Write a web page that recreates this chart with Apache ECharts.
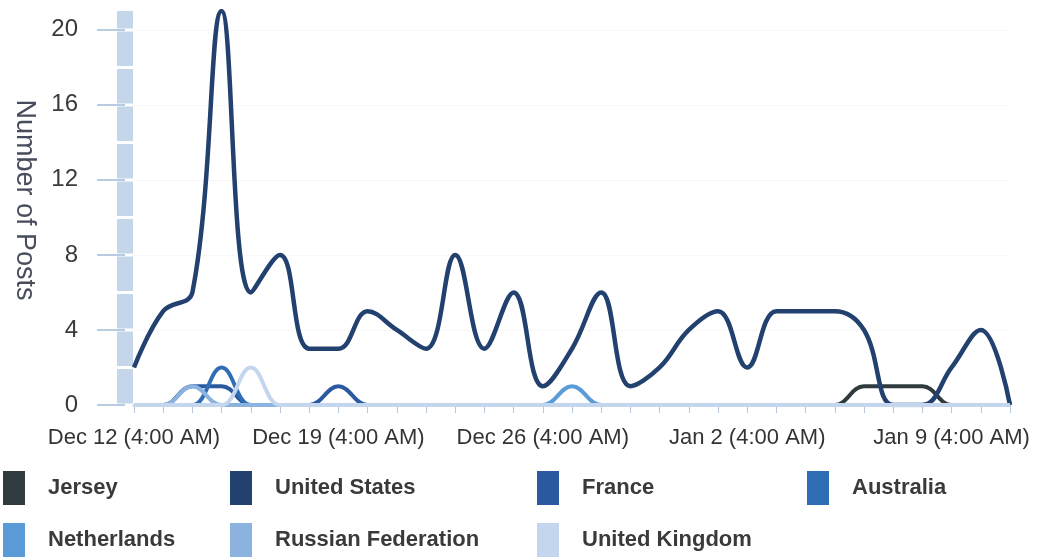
<!DOCTYPE html>
<html>
<head>
<meta charset="utf-8">
<script src="https://cdn.jsdelivr.net/npm/echarts@6/dist/echarts.min.js"></script>
<style>
  html, body { margin: 0; padding: 0; background: #fff; }
  #postsChart { width: 1038px; height: 557px; }
</style>
</head>
<body>
<div id="postsChart"></div>
<script>
// one point per day, Dec 12 .. Jan 11
var days = [
    'Dec 12 (4:00 AM)', 'Dec 13 (4:00 AM)', 'Dec 14 (4:00 AM)', 'Dec 15 (4:00 AM)',
    'Dec 16 (4:00 AM)', 'Dec 17 (4:00 AM)', 'Dec 18 (4:00 AM)', 'Dec 19 (4:00 AM)',
    'Dec 20 (4:00 AM)', 'Dec 21 (4:00 AM)', 'Dec 22 (4:00 AM)', 'Dec 23 (4:00 AM)',
    'Dec 24 (4:00 AM)', 'Dec 25 (4:00 AM)', 'Dec 26 (4:00 AM)', 'Dec 27 (4:00 AM)',
    'Dec 28 (4:00 AM)', 'Dec 29 (4:00 AM)', 'Dec 30 (4:00 AM)', 'Dec 31 (4:00 AM)',
    'Jan 1 (4:00 AM)', 'Jan 2 (4:00 AM)', 'Jan 3 (4:00 AM)', 'Jan 4 (4:00 AM)',
    'Jan 5 (4:00 AM)', 'Jan 6 (4:00 AM)', 'Jan 7 (4:00 AM)', 'Jan 8 (4:00 AM)',
    'Jan 9 (4:00 AM)', 'Jan 10 (4:00 AM)', 'Jan 11 (4:00 AM)'
];

var jersey       = [0,0,0,0,0,0,0,0,0,0,0,0,0,0,0,0,0,0,0,0,0,0,0,0,0,1,1,1,0,0,0];
var unitedStates = [2,5,6,21,6,8,3,3,5,4,3,8,3,6,1,3,6,1,2,4,5,2,5,5,5,4,0,0,2,4,0];
var france       = [0,0,1,1,0,0,0,1,0,0,0,0,0,0,0,0,0,0,0,0,0,0,0,0,0,0,0,0,0,0,0];
var australia    = [0,0,0,2,0,0,0,0,0,0,0,0,0,0,0,0,0,0,0,0,0,0,0,0,0,0,0,0,0,0,0];
var netherlands  = [0,0,0,0,0,0,0,0,0,0,0,0,0,0,0,1,0,0,0,0,0,0,0,0,0,0,0,0,0,0,0];
var russianFed   = [0,0,1,0,0,0,0,0,0,0,0,0,0,0,0,0,0,0,0,0,0,0,0,0,0,0,0,0,0,0,0];
var unitedKingdom= [0,0,0,0,2,0,0,0,0,0,0,0,0,0,0,0,0,0,0,0,0,0,0,0,0,0,0,0,0,0,0];

var yTicks = [0, 4, 8, 12, 16, 20];

var countries = ['Jersey', 'United States', 'France', 'Australia', 'Netherlands', 'Russian Federation', 'United Kingdom'];
var countryData = [jersey, unitedStates, france, australia, netherlands, russianFed, unitedKingdom];
var countryColors = ['#2f3b3e', '#22416f', '#2b59a0', '#2f6db4', '#5b9bd8', '#8cb2e0', '#c4d6ee'];

// legend slots: [left, top] (legend has 5px padding of its own)
var legendPos = [[-2, 466], [225, 466], [532, 466], [802, 466], [-2, 518], [225, 518], [532, 518]];

var myChart = echarts.init(document.getElementById('postsChart'));

var seriesList = [];
var legends = [];
for (var i = 0; i < countries.length; i++) {
    seriesList.push({
        name: countries[i],
        type: 'line',
        data: countryData[i],
        smooth: 0.4,
        symbol: 'none',
        lineStyle: { width: i == 1 ? 4.5 : 4, color: countryColors[i] },
        itemStyle: { color: countryColors[i] }
    });
    legends.push({
        data: [countries[i]],
        left: legendPos[i][0],
        top: legendPos[i][1],
        icon: 'rect',
        itemWidth: 22,
        itemHeight: 34,
        textStyle: {
            fontFamily: 'Liberation Sans',
            fontSize: 22,
            fontWeight: 'bold',
            color: '#3a3a3a',
            padding: [0, 0, 0, 18]
        }
    });
}

var option = {
    animation: false,
    legend: legends,
    grid: { left: 134, right: 28, top: 11, bottom: 152 },
    xAxis: {
        type: 'category',
        data: days,
        boundaryGap: false,
        axisLine: { lineStyle: { color: '#c9d8ec', width: 3 } },
        axisTick: { interval: 0, length: 8, lineStyle: { color: '#b6c5d8' } },
        axisLabel: {
            interval: 6,
            margin: 22,
            fontFamily: 'Liberation Sans',
            fontSize: 22,
            color: '#333'
        },
        splitLine: { show: false }
    },
    yAxis: {
        type: 'value',
        min: 0,
        max: 21,
        interval: 4,
        offset: 9,
        name: 'Number of Posts',
        nameLocation: 'middle',
        nameRotate: -90,
        nameGap: 87,
        nameTextStyle: {
            fontFamily: 'Liberation Sans',
            fontSize: 27,
            color: '#474d5c',
            padding: [0, 16, 0, 0]
        },
        axisLine: {
            show: true,
            lineStyle: { color: '#c6d6ea', width: 16, cap: 'butt', type: [34.5, 3], dashOffset: -1.5 }
        },
        axisTick: {
            show: true,
            length: 28,
            customValues: yTicks,
            lineStyle: { color: '#b8cbe3', width: 2 }
        },
        axisLabel: {
            margin: 47,
            customValues: yTicks,
            fontFamily: 'Liberation Sans',
            fontSize: 24,
            color: '#3a3a3a'
        },
        splitLine: { lineStyle: { color: '#efefef', type: 'dotted' } }
    },
    series: seriesList
};

myChart.setOption(option);
</script>
</body>
</html>
